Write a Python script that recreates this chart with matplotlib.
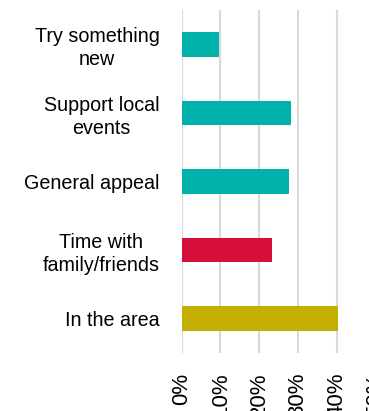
import matplotlib.pyplot as plt
from matplotlib.ticker import PercentFormatter

plt.rcParams['font.family'] = ['Liberation Sans', 'DejaVu Sans']

# categories listed top to bottom
categories = ["Try something\nnew", "Support local\nevents", "General appeal",
              "Time with\nfamily/friends", "In the area"]
values = [0.095, 0.281, 0.277, 0.232, 0.402]
colors = ["#00B2A9", "#00B2A9", "#00B2A9", "#D50F3A", "#C4B000"]
xticks = [0, 0.1, 0.2, 0.3, 0.4, 0.5]

fig = plt.figure(figsize=(3.69, 4.11), dpi=100)
ax = fig.add_axes([0.4924, 0.1411, 0.5252, 0.8346])

ypos = list(range(len(categories)))[::-1]
ax.barh(ypos, values, height=0.36, color=colors, zorder=3)

ax.set_xlim(0, 0.5)
ax.set_ylim(-0.5, len(categories) - 0.5)
ax.set_xticks(xticks)
ax.xaxis.set_major_formatter(PercentFormatter(1.0, decimals=0))
ax.set_yticks(ypos)
ax.set_yticklabels(categories, ha='right', multialignment='center',
                   linespacing=1.25)

ax.grid(axis='x', color='#d9d9d9', linewidth=1.5, zorder=0)
for s in ax.spines.values():
    s.set_visible(False)

ax.tick_params(axis='x', length=0, pad=14, labelsize=16, rotation=90)
ax.tick_params(axis='y', length=0, pad=16, labelsize=14.2)

fig.savefig("out.png", dpi=100)
